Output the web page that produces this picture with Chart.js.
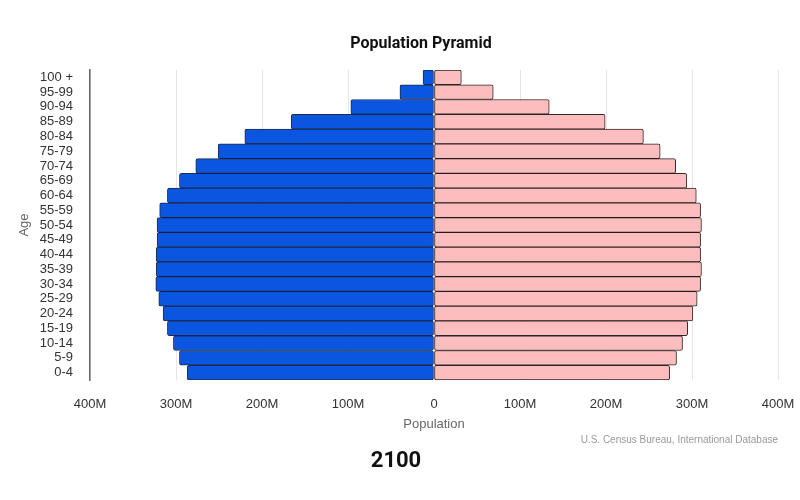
<!DOCTYPE html>
<html>
<head>
<meta charset="utf-8">
<script src="https://cdn.jsdelivr.net/npm/chart.js@4/dist/chart.umd.min.js"></script>
<style>
  html, body { margin: 0; padding: 0; background: #fff; }
  #wrap { width: 800px; height: 500px; position: relative; }
</style>
</head>
<body>
<div id="wrap"><canvas id="c" width="800" height="500"></canvas></div>
<script>
const ageGroups = ["100 +","95-99","90-94","85-89","80-84","75-79","70-74","65-69","60-64","55-59","50-54","45-49","40-44","35-39","30-34","25-29","20-24","15-19","10-14","5-9","0-4"];
// population in millions
const maleValues   = [12.8, 39.6, 96.7, 166, 220, 251, 277, 296, 310, 319, 322, 322, 323, 323, 323.5, 320, 315, 310, 303, 296, 287];
const femaleValues = [31.8, 68.9, 134, 199, 243.5, 263, 281, 294, 305, 310, 311, 310, 310, 311, 310, 306, 301, 295, 289, 282, 274];
const xTickValues = [-400, -300, -200, -100, 0, 100, 200, 300, 400];
const chartTitle = "Population Pyramid";
const yearLabel = "2100";
const creditText = "U.S. Census Bureau, International Database";
const xAxisTitle = "Population";
const yAxisTitle = "Age";

const textPlugin = {
  id: 'texts',
  afterDraw(chart) {
    const ctx = chart.ctx;
    const ca = chart.chartArea;
    ctx.save();
    ctx.fillStyle = '#111';
    ctx.textAlign = 'center';
    ctx.textBaseline = 'middle';
    ctx.font = 'bold 16px Roboto';
    ctx.fillText(chartTitle, 421, 44);
    ctx.font = 'bold 22px Roboto';
    ctx.fillText(yearLabel, 396, 461);
    ctx.fillStyle = '#999';
    ctx.font = '10px "Liberation Sans", Arial';
    ctx.textAlign = 'right';
    ctx.fillText(creditText, ca.right, 440);
    ctx.restore();
  }
};

new Chart(document.getElementById('c'), {
  type: 'bar',
  data: {
    labels: ageGroups,
    datasets: [
      {
        label: 'Male',
        data: maleValues.map(v => -v),
        backgroundColor: '#0a56e0',
        borderColor: 'rgba(10,20,50,0.9)',
        borderWidth: 1,
        borderRadius: 2,
        borderSkipped: false,
        barPercentage: 1,
        categoryPercentage: 1
      },
      {
        label: 'Female',
        data: femaleValues,
        backgroundColor: '#fbbdbd',
        borderColor: 'rgba(30,15,15,0.9)',
        borderWidth: 1,
        borderRadius: 2,
        borderSkipped: false,
        barPercentage: 1,
        categoryPercentage: 1
      }
    ]
  },
  options: {
    indexAxis: 'y',
    responsive: false,
    animation: false,
    devicePixelRatio: 1,
    layout: { autoPadding: false, padding: { top: 70, bottom: 68, left: 0, right: 22 } },
    plugins: {
      legend: { display: false },
      title: { display: false },
      tooltip: { enabled: false }
    },
    scales: {
      x: {
        stacked: true,
        min: -400,
        max: 400,
        afterBuildTicks(scale) { scale.ticks = xTickValues.map(v => ({ value: v })); },
        afterFit(scale) { scale.height = 52; scale.paddingLeft = 0; scale.paddingRight = 0; },
        ticks: {
          padding: 17,
          color: '#333',
          font: { family: '"Liberation Sans", Arial', size: 13 },
          maxRotation: 0,
          autoSkip: false,
          callback: v => v === 0 ? '0' : Math.abs(v) + 'M'
        },
        grid: { color: '#e6e6e6', drawTicks: false, lineWidth: 1 },
        border: { display: false },
        title: {
          display: true,
          text: xAxisTitle,
          color: '#666',
          font: { family: '"Liberation Sans", Arial', size: 13 },
          padding: { top: 0, bottom: 0 }
        }
      },
      y: {
        stacked: true,
        afterFit(scale) { scale.width = 90; },
        ticks: {
          padding: 17,
          color: '#333',
          autoSkip: false,
          font: { family: '"Liberation Sans", Arial', size: 13 }
        },
        grid: { color: 'rgba(0,0,0,0)', drawTicks: false },
        border: { display: true, color: '#666', width: 1.5 },
        title: {
          display: true,
          text: yAxisTitle,
          color: '#666',
          font: { family: '"Liberation Sans", Arial', size: 13 },
          padding: { top: 17, bottom: 0 }
        }
      }
    }
  },
  plugins: [textPlugin]
});
</script>
</body>
</html>
